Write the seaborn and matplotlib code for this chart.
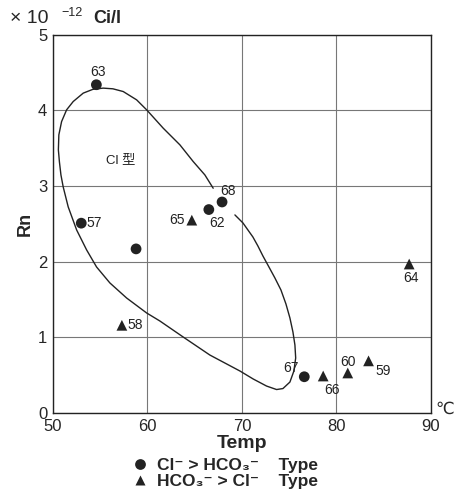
import numpy as np
import pandas as pd
import matplotlib.pyplot as plt
import seaborn as sns

# Rn x temperatura das fontes
sample_id = ['63', '57', '', '65', '62', '68', '58', '64', '67', '66', '60', '59']
temp = [54.6, 53.0, 58.8, 64.7, 66.5, 67.9, 57.3, 87.7, 76.6, 78.6, 81.2, 83.4]
rn = [4.34, 2.51, 2.17, 2.55, 2.69, 2.79, 1.16, 1.97, 0.48, 0.49, 0.53, 0.69]
water_type = ['Cl', 'Cl', 'Cl', 'HCO3', 'Cl', 'Cl', 'HCO3', 'HCO3', 'Cl', 'HCO3', 'HCO3', 'HCO3']

# contorno da região "Cl 型" (aberto entre os pontos 68 e 62)
curve_x = [66.96, 66.08, 64.85, 63.44, 61.67, 59.92, 58.86, 57.44, 56.35, 55.32, 54.23,
           53.21, 52.15, 51.45, 50.92, 50.63, 50.58, 50.69, 50.85, 51.09, 51.62, 52.51,
           53.57, 54.62, 56.03, 57.80, 59.92, 61.32, 63.79, 66.61, 69.79, 71.20, 72.61,
           73.67, 74.34, 75.08, 75.50, 75.69, 75.61, 75.40, 75.08, 74.66, 74.13, 73.49,
           72.86, 72.22, 71.69, 71.16, 70.63, 70.11, 69.26]
curve_y = [2.972, 3.148, 3.324, 3.545, 3.766, 4.008, 4.140, 4.250, 4.286, 4.295, 4.279,
           4.229, 4.118, 4.008, 3.853, 3.677, 3.479, 3.320, 3.148, 2.989, 2.725, 2.421,
           2.156, 1.931, 1.720, 1.521, 1.323, 1.217, 1.005, 0.767, 0.556, 0.450, 0.357,
           0.311, 0.324, 0.410, 0.556, 0.728, 0.899, 1.071, 1.257, 1.442, 1.627, 1.786,
           1.931, 2.077, 2.209, 2.328, 2.421, 2.513, 2.619]

x_ticks = [50, 60, 70, 80, 90]
y_ticks = [0, 1, 2, 3, 4, 5]

type_labels = {'Cl': 'Cl⁻ > HCO₃⁻    Type',
               'HCO3': 'HCO₃⁻ > Cl⁻    Type'}

# posição dos rótulos de cada ponto (offset em pontos, ha, va)
label_pos = {
    '63': ((1, 4), 'center', 'bottom'),
    '57': ((4, 0), 'left', 'center'),
    '65': ((-5, 0), 'right', 'center'),
    '62': ((0, -5), 'left', 'top'),
    '68': ((-1, 3), 'left', 'bottom'),
    '58': ((4, 0), 'left', 'center'),
    '64': ((1, -5), 'center', 'top'),
    '67': ((-4, 1), 'right', 'bottom'),
    '66': ((6, -5), 'center', 'top'),
    '60': ((0, 3), 'center', 'bottom'),
    '59': ((5, -2), 'left', 'top'),
}


def main() -> None:
    sns.set_style('white')
    plt.rcParams['font.family'] = ['Liberation Sans', 'DejaVu Sans', 'Noto Sans CJK JP']

    df = pd.DataFrame({'id': sample_id, 'temp': temp, 'rn': rn,
                       'tipo': [type_labels[t] for t in water_type]})

    fig = plt.figure(figsize=(4.56, 4.9), dpi=100)
    ax = fig.add_axes([0.116, 0.157, 0.829, 0.772])

    ax.plot(curve_x, curve_y, color='#222222', lw=1.0, zorder=2,
            solid_joinstyle='round', solid_capstyle='round')

    sns.scatterplot(data=df, x='temp', y='rn', style='tipo',
                    style_order=[type_labels['Cl'], type_labels['HCO3']],
                    markers=['o', '^'], color='#222222', s=60,
                    edgecolor='none', zorder=3, ax=ax)

    for _, row in df.iterrows():
        if row['id'] == '':
            continue
        off, ha, va = label_pos[row['id']]
        ax.annotate(row['id'], (row['temp'], row['rn']), xytext=off,
                    textcoords='offset points', ha=ha, va=va, fontsize=10,
                    color='#222222')

    ax.text(57.2, 3.35, 'Cl 型', fontsize=9.5, ha='center', va='center', color='#222222',
            family=['Liberation Sans', 'Noto Sans CJK JP'])

    ax.set_xlim(50, 90)
    ax.set_ylim(0, 5)
    ax.set_xticks(x_ticks)
    ax.set_yticks(y_ticks)
    ax.set_xticklabels([str(v) for v in x_ticks], fontsize=12)
    ax.set_yticklabels([str(v) for v in y_ticks], fontsize=12)
    ax.tick_params(length=0, pad=4)
    ax.grid(True, color='#777777', lw=0.8)
    for s in ax.spines.values():
        s.set_color('#222222')
        s.set_linewidth(1.0)

    ax.set_xlabel('Temp', fontsize=14, fontweight='bold', labelpad=1)
    ax.set_ylabel('Rn', fontsize=13, fontweight='bold', labelpad=3)

    ax.annotate('℃', (1, 0), xycoords='axes fraction', xytext=(3, 3),
                textcoords='offset points', fontsize=12, ha='left', va='center')
    fig.text(0.022, 0.962, '× 10', fontsize=14, ha='left', va='center')
    fig.text(0.134, 0.974, '−12', fontsize=9, ha='left', va='center')
    fig.text(0.204, 0.962, 'Ci/l', fontsize=13, fontweight='bold', ha='left', va='center')

    sns.move_legend(ax, 'upper center', bbox_to_anchor=(0.455, -0.095), frameon=False,
                    title=None, prop={'size': 12.5, 'weight': 'bold'},
                    handlelength=1.0, handletextpad=0.5, labelspacing=0.05,
                    borderpad=0, markerscale=1.0)

    fig.savefig('out.png', dpi=100)


if __name__ == '__main__':
    main()
